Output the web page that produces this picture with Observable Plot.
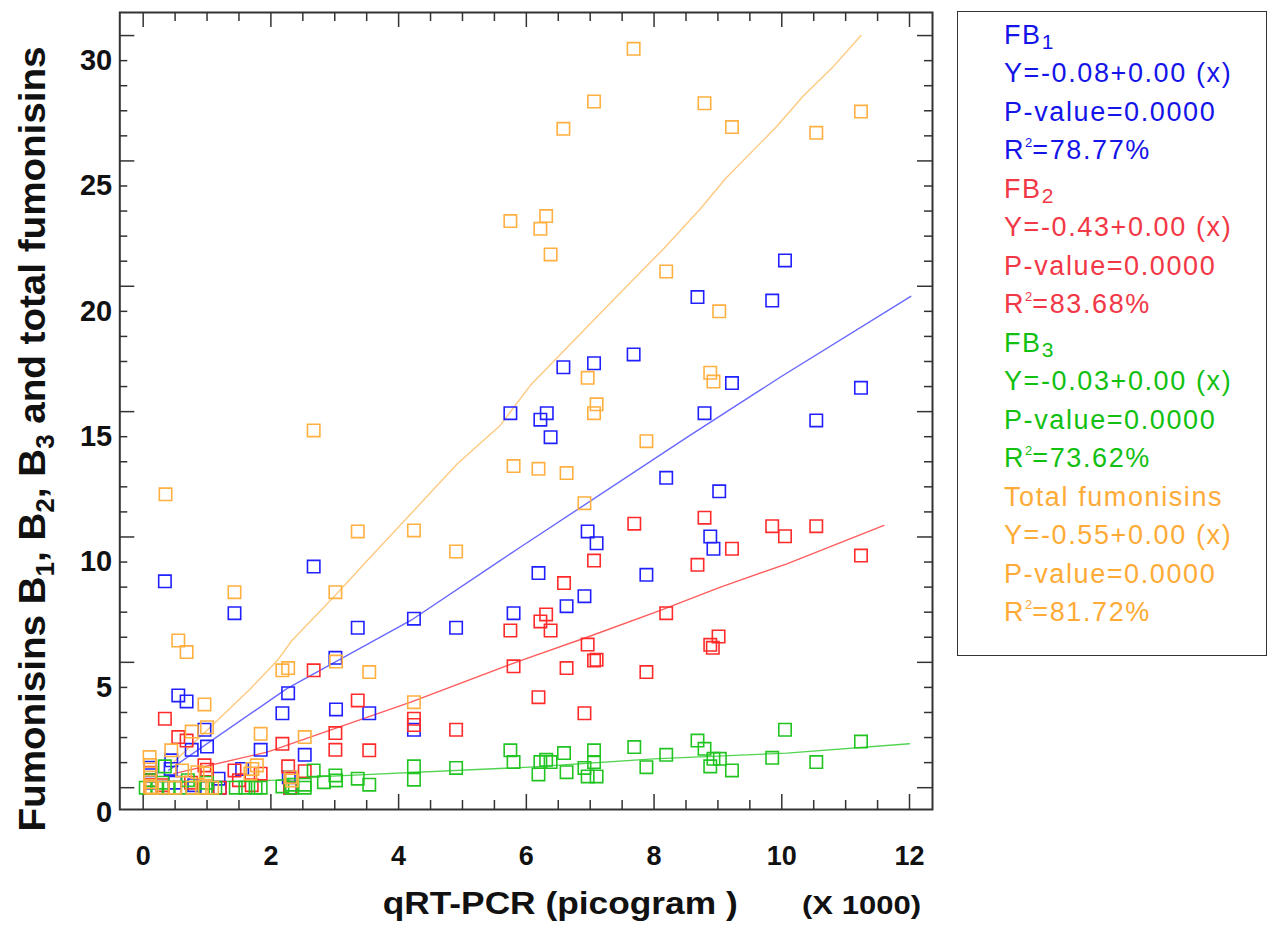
<!DOCTYPE html>
<html>
<head>
<meta charset="utf-8">
<script src="https://cdn.jsdelivr.net/npm/d3@7"></script>
<script src="https://cdn.jsdelivr.net/npm/@observablehq/plot@0.6"></script>
<style>
  body { margin: 0; background: #fff; }
  #wrap { position: relative; width: 1275px; height: 929px; overflow: hidden; }
  #legend { position: absolute; left: 957px; top: 11px; width: 310px; height: 645px;
            border: 1.5px solid #333; box-sizing: border-box;
            font-family: "Liberation Sans", Arial, sans-serif; font-size: 27px; letter-spacing: 1.6px; }
  #legend .ln { position: absolute; left: 46px; white-space: nowrap; line-height: 30px; height: 30px; }
  #legend sub { font-size: 21px; vertical-align: -5px; line-height: 0; letter-spacing: 0; }
  #legend sup { font-size: 13px; vertical-align: 12px; line-height: 0; margin-left: 0px; margin-right: 0px; letter-spacing: 0; }
</style>
</head>
<body>
<div id="wrap"></div>
<script>
// ---------- data (x in thousands of picograms, y in fumonisin units) ----------
const fb1Points = [
  [10.05,22.03],[8.68,20.57],[9.85,20.43],[7.68,18.28],[7.06,17.93],[6.58,17.77],[9.22,17.14],[11.24,16.95],
  [6.32,15.94],[5.75,15.94],[8.79,15.94],[6.22,15.68],[10.54,15.65],[6.38,14.98],[8.19,13.36],[9.02,12.82],
  [6.96,11.22],[8.88,11.02],[7.10,10.75],[8.93,10.53],[2.67,9.82],[6.19,9.56],[7.88,9.49],[0.34,9.23],
  [6.91,8.64],[6.63,8.24],[5.80,7.96],[1.43,7.96],[4.24,7.74],[3.36,7.38],[4.90,7.38],[3.01,6.18],
  [2.27,4.77],[0.55,4.68],[0.68,4.44],[3.02,4.12],[3.54,3.97],[2.18,3.97],[0.96,3.31],[4.24,3.31],
  [1.00,2.64],[0.76,2.51],[1.84,2.51],[2.53,2.31],[0.44,2.09],[0.11,1.80],[0.43,1.75],[1.55,1.75],
  [0.11,1.50],[2.28,1.42],[1.18,1.36],[0.11,1.20],[0.50,1.20],[0.80,1.10],[0.11,1.00],[0.30,1.00],
  [1.00,1.00],[1.20,1.00],[2.30,1.00]
];
const fb2Points = [
  [8.79,11.77],[7.69,11.53],[9.85,11.43],[10.54,11.43],[10.05,11.03],[9.22,10.53],[11.24,10.26],[7.06,10.06],
  [8.68,9.89],[6.59,9.16],[8.19,7.96],[6.31,7.91],[6.22,7.63],[6.38,7.27],[5.75,7.27],[9.01,7.03],
  [6.96,6.71],[8.88,6.70],[8.92,6.58],[7.10,6.10],[7.06,6.07],[5.80,5.84],[6.63,5.77],[7.88,5.61],
  [2.67,5.68],[6.19,4.61],[3.36,4.48],[6.91,3.97],[4.24,3.75],[0.34,3.75],[4.24,3.50],[4.90,3.31],
  [3.01,3.18],[0.55,3.02],[0.68,2.88],[2.18,2.75],[3.01,2.51],[3.54,2.49],[0.96,1.89],[2.27,1.85],
  [1.00,1.72],[1.43,1.69],[2.53,1.66],[1.84,1.56],[0.11,1.60],[0.11,1.30],[1.50,1.30],[0.75,1.20],
  [0.30,1.10],[1.70,1.10],[0.11,1.00],[0.50,1.00],[1.20,1.00],[2.30,1.00]
];
const fb3Points = [
  [10.05,3.31],[8.68,2.88],[11.24,2.84],[7.69,2.62],[8.79,2.55],[7.06,2.49],[5.75,2.49],[6.59,2.38],
  [8.19,2.31],[9.85,2.19],[8.93,2.15],[9.03,2.15],[6.31,2.11],[6.22,2.02],[6.38,2.02],[7.06,2.02],
  [10.54,2.02],[5.80,2.02],[8.88,1.85],[4.24,1.85],[0.34,1.85],[7.88,1.82],[6.91,1.79],[4.90,1.79],
  [9.22,1.69],[2.67,1.69],[6.63,1.62],[6.19,1.53],[3.01,1.49],[6.96,1.45],[7.10,1.45],[3.36,1.36],
  [4.24,1.32],[3.02,1.29],[0.11,1.30],[0.70,1.30],[2.83,1.22],[0.30,1.20],[1.00,1.20],[3.54,1.12],
  [2.53,1.12],[2.31,1.12],[2.18,1.05],[0.04,1.00],[0.22,1.00],[0.40,1.00],[0.58,1.00],[0.77,1.00],
  [0.98,1.00],[1.13,1.00],[1.45,1.00],[1.60,1.00],[1.76,1.00],[1.84,1.00],[2.33,1.00],[2.53,1.00]
];
const totalPoints = [
  [7.68,30.47],[7.06,28.37],[8.79,28.30],[11.24,27.97],[9.22,27.35],[6.58,27.28],[10.54,27.12],[6.31,23.80],
  [5.75,23.60],[6.22,23.29],[6.38,22.27],[8.19,21.59],[9.02,20.00],[8.88,17.55],[6.96,17.35],[8.93,17.20],
  [7.10,16.29],[7.06,15.94],[2.67,15.25],[7.88,14.82],[5.80,13.83],[6.19,13.72],[6.63,13.55],[0.35,12.70],
  [6.91,12.35],[4.24,11.26],[3.36,11.22],[4.90,10.42],[1.43,8.80],[3.01,8.80],[0.55,6.87],[0.68,6.41],
  [3.02,6.03],[2.27,5.77],[2.18,5.68],[3.54,5.61],[4.24,4.41],[0.96,4.32],[1.00,3.41],[0.76,3.24],
  [1.84,3.15],[2.53,3.02],[0.44,2.49],[0.10,2.22],[0.11,1.90],[1.78,1.89],[1.71,1.75],[0.61,1.69],
  [0.85,1.62],[0.11,1.57],[0.98,1.57],[1.68,1.57],[2.31,1.42],[2.33,1.29],[0.11,1.22],[0.11,1.02],
  [0.14,1.00],[0.30,1.00],[0.50,1.00],[0.77,1.00],[0.92,1.00],[1.08,1.00]
];

// fitted lines as drawn
const fb1Line   = [[0.40,1.70],[2.25,4.95],[4.19,7.67],[5.59,10.06],[5.91,10.60],[8.52,14.98],[9.98,17.38],[12.02,20.60]];
const fb2Line   = [[0.48,1.56],[1.94,2.42],[4.19,4.41],[5.91,6.07],[6.95,7.00],[8.10,8.07],[9.04,9.00],[10.08,9.93],[11.60,11.46]];
const fb3Line   = [[0.58,1.20],[2.10,1.30],[2.62,1.42],[6.06,1.82],[7.99,2.15],[10.08,2.38],[12.00,2.75]];
const totalLine = [[0.45,1.95],[1.68,4.95],[2.10,6.07],[2.33,6.87],[2.98,8.60],[3.51,10.06],[4.92,13.92],[5.59,15.45],
                   [6.06,17.04],[7.38,20.50],[8.15,22.50],[8.73,24.10],[9.12,25.30],[9.93,27.40],[10.34,28.60],[10.81,29.77],[11.24,31.00]];

// axes
const xTickLabels = [0, 2, 4, 6, 8, 10, 12];
const xMinorTicks = [0.5, 1, 1.5, 2.5, 3, 3.5, 4.5, 5, 5.5, 6.5, 7, 7.5, 8.5, 9, 9.5, 10.5, 11, 11.5];
const yTickLabels = [0, 5, 10, 15, 20, 25, 30];
const yMajorTicks = [1, 6, 11, 16, 21, 26, 31];
const yMinorTicks = [2,3,4,5,7,8,9,10,12,13,14,15,17,18,19,20,22,23,24,25,27,28,29,30];

// legend
const seriesNames = ["FB", "FB", "FB", "Total fumonisins"];
const seriesSubs = ["1", "2", "3", ""];
const intercepts = ["-0.08", "-0.43", "-0.03", "-0.55"];
const slopes = ["0.00", "0.00", "0.00", "0.00"];
const pValues = ["0.0000", "0.0000", "0.0000", "0.0000"];
const r2Values = ["78.77", "83.68", "73.62", "81.72"];
const legendColors = ["#1414e8", "#f23846", "#12c012", "#ffab38"];

// ---------- styling ----------
const markColors = ["#2020ff", "#ff2a2a", "#22c422", "#ffb040"];
const lineColors = ["#5858ff", "#ff4a4a", "#3fcf3f", "#ffc372"];

const W = 1275, H = 929, mL = 119.3, mR = 343, mT = 12, mB = 120;
const fw = W - mL - mR, fh = H - mT - mB;
const font = "Liberation Sans, Arial, Helvetica, sans-serif";
const axisColor = "#333";

const squares = (pts, c) => Plot.dot(pts, {x: d => d[0], y: d => d[1], symbol: "square", r: 7,
  stroke: c, strokeWidth: 1.6, fill: "none"});
const fitLine = (pts, c) => Plot.line(pts, {x: d => d[0], y: d => d[1], stroke: c, strokeWidth: 1.4, strokeOpacity: 0.9});

const chart = Plot.plot({
  width: W, height: H,
  marginLeft: mL, marginRight: mR, marginTop: mT, marginBottom: mB,
  style: {fontFamily: font, background: "white", color: "#111"},
  x: {domain: [-0.366, 12.36], axis: null},
  y: {domain: [0.13, 31.92], axis: null},
  marks: [
    // ticks on all four sides, pointing inward
    Plot.ruleX(xTickLabels, {x: d => d, insetTop: fh - 15, stroke: axisColor, strokeWidth: 1.5}),
    Plot.ruleX(xMinorTicks, {x: d => d, insetTop: fh - 9, stroke: axisColor, strokeWidth: 1.5}),
    Plot.ruleX(xTickLabels, {x: d => d, insetBottom: fh - 15, stroke: axisColor, strokeWidth: 1.5}),
    Plot.ruleX(xMinorTicks, {x: d => d, insetBottom: fh - 9, stroke: axisColor, strokeWidth: 1.5}),
    Plot.ruleY(yMajorTicks, {y: d => d, insetRight: fw - 15, stroke: axisColor, strokeWidth: 1.5}),
    Plot.ruleY(yMinorTicks, {y: d => d, insetRight: fw - 8, stroke: axisColor, strokeWidth: 1.5}),
    Plot.ruleY(yMajorTicks, {y: d => d, insetLeft: fw - 15, stroke: axisColor, strokeWidth: 1.5}),
    Plot.ruleY(yMinorTicks, {y: d => d, insetLeft: fw - 8, stroke: axisColor, strokeWidth: 1.5}),
    Plot.frame({stroke: axisColor, strokeWidth: 2}),

    fitLine(totalLine, lineColors[3]),
    fitLine(fb1Line, lineColors[0]),
    fitLine(fb2Line, lineColors[1]),
    fitLine(fb3Line, lineColors[2]),
    squares(fb1Points, markColors[0]),
    squares(fb2Points, markColors[1]),
    squares(fb3Points, markColors[2]),
    squares(totalPoints, markColors[3]),

    // tick labels
    Plot.text(yTickLabels, {y: d => d, frameAnchor: "left", dx: -7.6, textAnchor: "end", text: d => String(d),
      fontSize: 29, fontWeight: "bold", fill: "#111"}),
    Plot.text(xTickLabels, {x: d => d, frameAnchor: "bottom", dy: 55, textAnchor: "middle", text: d => String(d),
      fontSize: 27, fontWeight: "bold", fill: "#111", className: "xlab"}),
    // axis titles
    Plot.text(["qRT-PCR (picogram )"], {frameAnchor: "bottom", dx: 34, dy: 104, textAnchor: "middle", text: d => d,
      fontSize: 31, fontWeight: "bold", fill: "#111", className: "xtitle"}),
    Plot.text(["(X 1000)"], {frameAnchor: "bottom-right", dx: -71, dy: 104, textAnchor: "middle", text: d => d,
      fontSize: 25, fontWeight: "bold", fill: "#111", className: "xunit"}),
    Plot.text(["Fumonisins B1, B2, B3 and total fumonisins"], {frameAnchor: "left", dx: -87, dy: 28, rotate: -90,
      textAnchor: "middle", text: d => d, fontSize: 37, fontWeight: "bold", fill: "#111", className: "ytitle"})
  ]
});

// y title with subscripts
const yt = d3.select(chart).select("g.ytitle text");
if (!yt.empty()) {
  yt.text(null);
  const parts = [["Fumonisins B", 0], ["1", 1], [", B", 0], ["2", 1], [", B", 0], ["3", 1], [" and total fumonisins", 0]];
  let shifted = false;
  for (const [t, sub] of parts) {
    const ts = yt.append("tspan").text(t);
    if (sub) { ts.attr("font-size", 25).attr("dy", 9); shifted = true; }
    else if (shifted) { ts.attr("dy", -9); shifted = false; }
  }
  yt.attr("textLength", 785).attr("lengthAdjust", "spacingAndGlyphs");
}
d3.select(chart).select("g.xtitle text").attr("textLength", 355).attr("lengthAdjust", "spacingAndGlyphs");
d3.select(chart).select("g.xunit text").attr("textLength", 119).attr("lengthAdjust", "spacingAndGlyphs");

const wrap = document.getElementById("wrap");
wrap.appendChild(chart);

// legend box
const legend = document.createElement("div");
legend.id = "legend";
const lines = [];
seriesNames.forEach((name, i) => {
  lines.push([name + (seriesSubs[i] ? "<sub>" + seriesSubs[i] + "</sub>" : ""), i]);
  lines.push(["Y=" + intercepts[i] + "+" + slopes[i] + " (x)", i]);
  lines.push(["P-value=" + pValues[i], i]);
  lines.push(["R<sup>2</sup>=" + r2Values[i] + "%", i]);
});
lines.forEach(([html, i], k) => {
  const el = document.createElement("div");
  el.className = "ln";
  el.style.top = (34 + 38.47 * k - 11 - 15) + "px";
  el.style.color = legendColors[i];
  el.innerHTML = html;
  legend.appendChild(el);
});
wrap.appendChild(legend);
</script>
</body>
</html>
